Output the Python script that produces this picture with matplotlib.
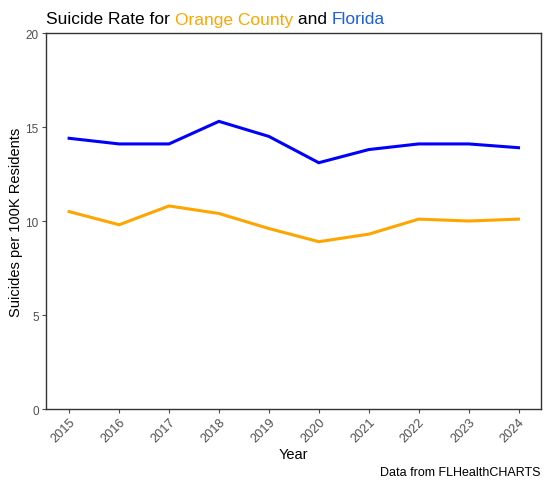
import matplotlib
matplotlib.use("Agg")
import matplotlib.pyplot as plt

years = [2015, 2016, 2017, 2018, 2019, 2020, 2021, 2022, 2023, 2024]
florida = [14.4, 14.1, 14.1, 15.3, 14.5, 13.1, 13.8, 14.1, 14.1, 13.9]
orange_county = [10.5, 9.8, 10.8, 10.4, 9.6, 8.9, 9.3, 10.1, 10.0, 10.1]
yticks = [0, 5, 10, 15, 20]

plt.rcParams['font.family'] = ['Liberation Sans', 'DejaVu Sans']

fig = plt.figure(figsize=(5.5, 4.81), dpi=100)
ax = fig.add_axes([0.083, 0.1476, 0.9836 - 0.083, 0.9293 - 0.1476])

ax.plot(years, florida, color='#0000FF', lw=2.2, solid_joinstyle='miter')
ax.plot(years, orange_county, color='#FFA500', lw=2.2, solid_joinstyle='miter')

ax.set_xlim(2014.53, 2024.45)
ax.set_ylim(0, 20)
ax.set_xticks(years)
ax.set_xticklabels([str(y) for y in years], rotation=45, ha='right', va='top',
                   rotation_mode='anchor')
ax.set_yticks(yticks)
ax.tick_params(axis='both', colors='#4D4D4D', labelsize=8.5, length=3, width=0.8,
               labelcolor='#4D4D4D', pad=2)
ax.tick_params(axis='x', labelsize=9.2)
for s in ax.spines.values():
    s.set_color('#333333')
    s.set_linewidth(1.0)

ax.set_xlabel('Year', fontsize=10.5, color='black', labelpad=2)
ax.set_ylabel('Suicides per 100K Residents', fontsize=10.5, color='black', labelpad=1.5)

# multi-coloured title
fig.canvas.draw()
renderer = fig.canvas.get_renderer()
parts = [('Suicide Rate for ', 'black'), ('Orange County', '#FFA500'),
         (' and ', 'black'), ('Florida', '#1E5FDC')]
x = 46 / 550
y = 1 - 24.5 / 481
for txt, col in parts:
    t = fig.text(x, y, txt, color=col, fontsize=12.5, ha='left', va='baseline')
    bb = t.get_window_extent(renderer=renderer)
    x += bb.width / fig.bbox.width

fig.text(540 / 550, 1 - 476 / 481, 'Data from FLHealthCHARTS', fontsize=9,
         ha='right', va='baseline', color='black')

fig.savefig('out.png', dpi=100)
